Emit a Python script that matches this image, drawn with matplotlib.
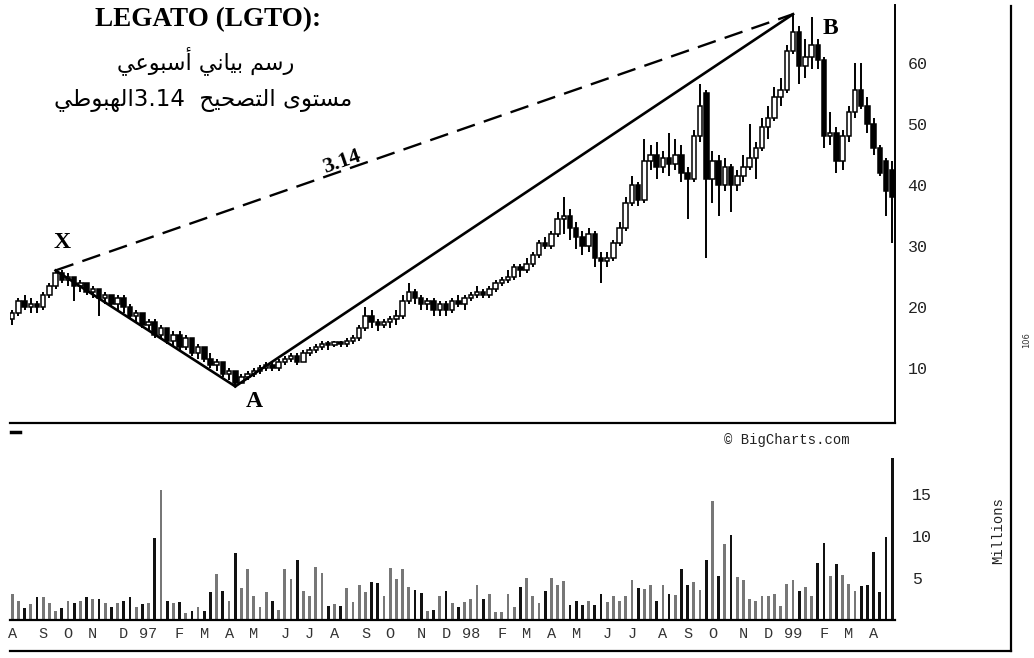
import re
import matplotlib
matplotlib.use('Agg')
import matplotlib.pyplot as plt
from matplotlib.lines import Line2D

# weekly prices, LGTO, Aug 1996 - Apr 1999
opens = [18, 19, 21, 20, 20.5, 20, 22, 23.5, 25.5, 24.5,
         25, 23.5, 24, 22.5, 23, 21.5, 22, 20.5, 21.5, 20,
         18.5, 19, 17, 17.5, 15.5, 16.5, 14.5, 15.5, 13.5, 15,
         12.5, 13.5, 11.5, 10.5, 11, 9, 9.5, 7.5, 8.5, 9,
         9.5, 10, 10.5, 10, 11, 11.5, 12, 11, 12.5, 13,
         13.5, 14, 13.8, 14.2, 14, 14.5, 15, 16.5, 18.5, 17.5,
         17, 17.5, 18, 18.5, 21, 22.5, 21.5, 20.5, 21, 19.5,
         20.5, 19.5, 21, 20.5, 21.5, 22, 22.5, 22, 23, 24,
         24.5, 25, 26.5, 26, 27, 28.5, 30.5, 30, 32, 34.5,
         35, 33, 31.5, 30, 32, 28, 27.5, 28, 30.5, 33,
         37, 40, 37.5, 44, 45, 43, 44.5, 43.5, 45, 42,
         41, 48, 55, 41, 44, 40, 43, 40, 41.5, 43,
         44.5, 46, 49.5, 51, 54.5, 55.5, 62, 65, 59.5, 61,
         63, 60.5, 48, 48.5, 44, 48, 52, 55.5, 53, 50,
         46, 44, 42.5]
highs = [19.5, 21.5, 22, 21.5, 21, 22.5, 24, 26, 26, 25.5,
         25, 24.5, 24, 23.5, 23, 22.5, 22, 22, 22, 20.5,
         19.5, 19, 18, 18, 17, 16.5, 16, 16, 15.5, 15,
         14, 13.5, 12.5, 11.5, 11, 10, 9.5, 9, 9.5, 10,
         10.5, 11, 11, 11.5, 12, 12.5, 12.5, 13, 13.5, 14,
         14.5, 14.5, 14.5, 14.5, 15, 15.5, 17, 20, 19.5, 18,
         18, 18.5, 19.5, 22, 24, 23, 22, 21.5, 21.5, 21,
         21, 21.5, 22, 22, 22.5, 23.5, 23, 23.5, 24.5, 25,
         26, 27, 27, 28, 29, 31, 31.5, 32.5, 35.5, 38,
         36, 34, 32.5, 33, 32.5, 29, 29, 31, 34, 38,
         41.5, 40.5, 47.5, 46.5, 47, 45.5, 48.5, 47.5, 46.5, 43,
         49, 56.5, 55.5, 45.5, 45, 44.5, 43.5, 42.5, 45, 50,
         47, 51, 53, 56, 57.5, 63, 68, 66, 64, 67.5,
         64, 61, 52, 49.5, 49, 53, 60, 60, 54.5, 51,
         46.5, 44.5, 44]
lows = [17, 18.5, 19.5, 19, 19, 19.5, 21.5, 23, 24, 23.5,
        21, 22.5, 22, 21.5, 18.5, 20.5, 20, 19.5, 19, 18,
        17.5, 16.5, 16, 15, 15, 14, 13.5, 13, 13, 12,
        11.5, 11, 10, 9.5, 8.5, 8, 7, 7.5, 8, 8.5,
        9, 9.5, 9.5, 9.5, 10.5, 11, 10.5, 11, 12, 12.5,
        13, 13, 13.5, 13.5, 13.5, 14, 14.5, 16, 16.5, 16,
        16.5, 16.5, 17, 18, 20.5, 20.5, 19.5, 19.5, 18.5, 18.5,
        18.5, 19, 20, 19.5, 21, 21.5, 21.5, 21.5, 22.5, 23.5,
        24, 24.5, 25, 25.5, 26.5, 28, 29.5, 29.5, 31.5, 32,
        31, 29.5, 28.5, 29, 26.5, 24, 26.5, 27.5, 30, 32.5,
        36.5, 36.5, 37, 42.5, 41, 42, 41.5, 42.5, 40.5, 34.5,
        40.5, 47, 28, 37, 35, 39, 35.5, 39, 40.5, 42.5,
        41, 45.5, 47.5, 50.5, 53, 55, 61.5, 56.5, 57.5, 59,
        59, 46, 46.5, 42, 42.5, 47, 51, 52.5, 48.5, 45,
        41.5, 35, 30.5]
closes = [19, 21, 20, 20.5, 20, 22, 23.5, 25.5, 24.5, 25,
          23.5, 24, 22.5, 23, 21.5, 22, 20.5, 21.5, 20, 18.5,
          19, 17, 17.5, 15.5, 16.5, 14.5, 15.5, 13.5, 15, 12.5,
          13.5, 11.5, 10.5, 11, 9, 9.5, 7.5, 8.5, 9, 9.5,
          10, 10.5, 10, 11, 11.5, 12, 11, 12.5, 13, 13.5,
          14, 13.8, 14.2, 14, 14.5, 15, 16.5, 18.5, 17.5, 17,
          17.5, 18, 18.5, 21, 22.5, 21.5, 20.5, 21, 19.5, 20.5,
          19.5, 21, 20.5, 21.5, 22, 22.5, 22, 23, 24, 24.5,
          25, 26.5, 26, 27, 28.5, 30.5, 30, 32, 34.5, 35,
          33, 31.5, 30, 32, 28, 27.5, 28, 30.5, 33, 37,
          40, 37.5, 44, 45, 43, 44.5, 43.5, 45, 42, 41,
          48, 53, 41, 44, 40, 43, 40, 41.5, 43, 44.5,
          46, 49.5, 51, 54.5, 55.5, 62, 65, 59.5, 61, 63,
          60.5, 48, 48.5, 44, 48, 52, 55.5, 53, 50, 46,
          42, 39, 38]
# weekly volume, millions
volume = [3.1, 2.3, 1.4, 1.9, 2.7, 2.7, 2.0, 1.1, 1.4, 2.3,
          2.0, 2.3, 2.7, 2.5, 2.5, 2.0, 1.5, 2.0, 2.3, 2.7,
          1.5, 1.9, 2.0, 9.8, 15.4, 2.3, 2.0, 2.1, 0.8, 1.1,
          1.5, 1.1, 3.3, 5.5, 3.5, 2.3, 7.9, 3.8, 6.0, 2.8,
          1.5, 3.3, 2.3, 1.2, 6.0, 4.9, 7.1, 3.5, 2.9, 6.3,
          5.6, 1.7, 1.9, 1.7, 3.8, 2.1, 4.2, 3.3, 4.5, 4.4,
          2.8, 6.2, 4.9, 6.0, 3.9, 3.6, 3.2, 1.1, 1.2, 2.9,
          3.5, 2.0, 1.5, 2.1, 2.5, 4.1, 2.5, 3.1, 1.0, 0.9,
          3.1, 1.5,
          3.9, 5.0, 2.9, 2.0, 3.4, 5.0, 4.2, 4.6, 1.8, 2.2,
          1.8, 2.2, 1.8, 3.1, 2.1, 2.8, 2.3, 2.9, 4.7, 3.8,
          3.7, 4.1, 2.3, 4.2, 3.1, 3.0, 6.1, 4.2, 4.5, 3.6,
          7.1, 14.1, 5.2, 9.0, 10.1, 5.1, 4.7, 2.5, 2.2, 2.8,
          2.9, 3.1, 1.7, 4.3, 4.7, 3.4, 3.9, 2.9, 6.8, 9.2,
          5.2, 6.6, 5.3, 4.3, 3.5, 4.0, 4.1, 8.1, 3.3, 9.9,
          19.2]

month_weeks = [0, 5, 9, 13, 18, 22, 27, 31, 35, 39, 44, 48, 52, 57, 61, 66, 70,
               74, 79, 83, 87, 91, 96, 100, 105, 109, 113, 118, 122, 126, 131, 135, 139]
month_labels = ['A', 'S', 'O', 'N', 'D', '97', 'F', 'M', 'A', 'M', 'J', 'J', 'A', 'S',
                'O', 'N', 'D', '98', 'F', 'M', 'A', 'M', 'J', 'J', 'A', 'S', 'O', 'N',
                'D', '99', 'F', 'M', 'A']
price_ticks = [10, 20, 30, 40, 50, 60]
vol_ticks = [5, 10, 15]

title = 'LEGATO (LGTO):'
line1 = 'رسم بياني أسبوعي'
line2 = 'مستوى التصحيح  3.14الهبوطي'

# arabic letter forms: isolated, final, initial, medial
FORMS = {
    'ا': ('\ufe8d', '\ufe8e', None, None),
    'أ': ('\ufe83', '\ufe84', None, None),
    'ب': ('\ufe8f', '\ufe90', '\ufe91', '\ufe92'),
    'ت': ('\ufe95', '\ufe96', '\ufe97', '\ufe98'),
    'ح': ('\ufea1', '\ufea2', '\ufea3', '\ufea4'),
    'ر': ('\ufead', '\ufeae', None, None),
    'س': ('\ufeb1', '\ufeb2', '\ufeb3', '\ufeb4'),
    'ص': ('\ufeb9', '\ufeba', '\ufebb', '\ufebc'),
    'ط': ('\ufec1', '\ufec2', '\ufec3', '\ufec4'),
    'ع': ('\ufec9', '\ufeca', '\ufecb', '\ufecc'),
    'ل': ('\ufedd', '\ufede', '\ufedf', '\ufee0'),
    'م': ('\ufee1', '\ufee2', '\ufee3', '\ufee4'),
    'ن': ('\ufee5', '\ufee6', '\ufee7', '\ufee8'),
    'ه': ('\ufee9', '\ufeea', '\ufeeb', '\ufeec'),
    'و': ('\ufeed', '\ufeee', None, None),
    'ى': ('\ufeef', '\ufef0', None, None),
    'ي': ('\ufef1', '\ufef2', '\ufef3', '\ufef4'),
}


def shape(s):
    out = []
    for k, ch in enumerate(s):
        if ch not in FORMS:
            out.append(ch)
            continue
        prev = s[k - 1] if k > 0 else ''
        nxt = s[k + 1] if k + 1 < len(s) else ''
        jp = prev in FORMS and FORMS[prev][2] is not None
        jn = nxt in FORMS and FORMS[ch][2] is not None
        iso, fin, ini, med = FORMS[ch]
        if jp and jn:
            out.append(med)
        elif jp:
            out.append(fin)
        elif jn:
            out.append(ini)
        else:
            out.append(iso)
    return ''.join(out)


def visual(s):
    runs = re.findall(r'[0-9.]+|[^0-9.]+', s)
    return ''.join(r if r[0].isdigit() else shape(r)[::-1] for r in reversed(runs))


W, H = 1034, 658


def fx(px):
    return px / W


def fy(py):
    return 1 - py / H


fig = plt.figure(figsize=(W / 100, H / 100), dpi=100)
weeks = list(range(len(closes)))

# price panel
ax = fig.add_axes([fx(10), fy(423), fx(895) - fx(10), fy(5) - fy(423)])
ax.vlines(weeks, lows, highs, color='black', lw=1.4)
bottoms = [min(o, c) for o, c in zip(opens, closes)]
heights = [max(abs(c - o), 0.3) for o, c in zip(opens, closes)]
faces = ['white' if c >= o else 'black' for o, c in zip(opens, closes)]
ax.bar(weeks, heights, bottom=bottoms, width=0.72, color=faces,
       edgecolor='black', linewidth=1.1, zorder=3)

ix = max(range(20), key=lambda i: highs[i])
ia = min(range(len(lows)), key=lambda i: lows[i])
ib = max(range(len(highs)), key=lambda i: highs[i])
ax.plot([ix, ia], [highs[ix], lows[ia]], color='black', lw=1.9, zorder=4)
ax.plot([ia, ib], [lows[ia], highs[ib]], color='black', lw=1.9, zorder=4)
ax.plot([ix, ib], [highs[ix], highs[ib]], color='black', lw=1.7,
        dashes=(8, 4), zorder=4)

ax.set_xlim(-0.35, 142.45)
ax.set_ylim(1.0, 69.5)
for s in ['top', 'left']:
    ax.spines[s].set_visible(False)
ax.spines['bottom'].set_linewidth(1.6)
ax.spines['right'].set_linewidth(1.4)
ax.set_xticks([])
ax.yaxis.tick_right()
ax.set_yticks(price_ticks)
ax.set_yticklabels([str(t) for t in price_ticks], family='Liberation Mono',
                   fontsize=12, color='#222')
ax.tick_params(axis='y', length=0, pad=9)

# volume panel
av = fig.add_axes([fx(10), fy(620), fx(895) - fx(10), fy(455) - fy(620)])
vcol = ['#777777' if c >= o else '#111111' for o, c in zip(opens, closes)]
av.bar(weeks, volume, width=0.45, color=vcol)
av.set_xlim(-0.35, 142.45)
av.set_ylim(0, 19.6)
for s in ['top', 'left', 'right']:
    av.spines[s].set_visible(False)
av.spines['bottom'].set_linewidth(1.6)
av.yaxis.tick_right()
av.set_yticks(vol_ticks)
av.set_yticklabels([str(t) for t in vol_ticks], family='Liberation Mono',
                   fontsize=12, color='#222')
av.tick_params(axis='y', length=0, pad=12)
av.set_xticks(month_weeks)
av.set_xticklabels(month_labels, family='Liberation Mono', fontsize=11,
                   color='#333')
av.tick_params(axis='x', length=0, pad=5)

# outer frame
fig.add_artist(Line2D([fx(10), fx(1011)], [fy(651), fy(651)],
                      transform=fig.transFigure, color='black', lw=1.6))
fig.add_artist(Line2D([fx(1011), fx(1011)], [fy(651), fy(6)],
                      transform=fig.transFigure, color='black', lw=1.6))
fig.add_artist(Line2D([fx(11), fx(20)], [fy(432), fy(432)],
                      transform=fig.transFigure, color='black', lw=2.5))

# texts
fig.text(fx(208), fy(20), title, family='Liberation Serif', weight='bold',
         fontsize=19.5, ha='center', va='center')
fig.text(fx(206), fy(61), visual(line1), family='DejaVu Sans', fontsize=16,
         ha='center', va='center')
fig.text(fx(203), fy(100), visual(line2), family='DejaVu Sans', fontsize=16.5,
         ha='center', va='center')
fig.text(fx(62), fy(243), 'X', family='Liberation Serif', weight='bold',
         fontsize=17, ha='center', va='center')
fig.text(fx(254), fy(402), 'A', family='Liberation Serif', weight='bold',
         fontsize=17, ha='center', va='center')
fig.text(fx(830), fy(28), 'B', family='Liberation Serif', weight='bold',
         fontsize=17, ha='center', va='center')
fig.text(fx(342), fy(162), '3.14', family='Liberation Serif', weight='bold',
         fontsize=16, ha='center', va='center', rotation=19)
fig.text(fx(787), fy(440), '© BigCharts.com', family='Liberation Mono',
         fontsize=10, ha='center', va='center', color='#222')
fig.text(fx(998), fy(530), 'Millions', family='Liberation Mono',
         fontsize=10, ha='center', va='center', rotation=90, color='#222')
fig.text(fx(1027), fy(340), '106', family='DejaVu Sans', fontsize=6,
         ha='center', va='center', rotation=90, color='#333')

fig.savefig('out.png', dpi=100, facecolor='white')
